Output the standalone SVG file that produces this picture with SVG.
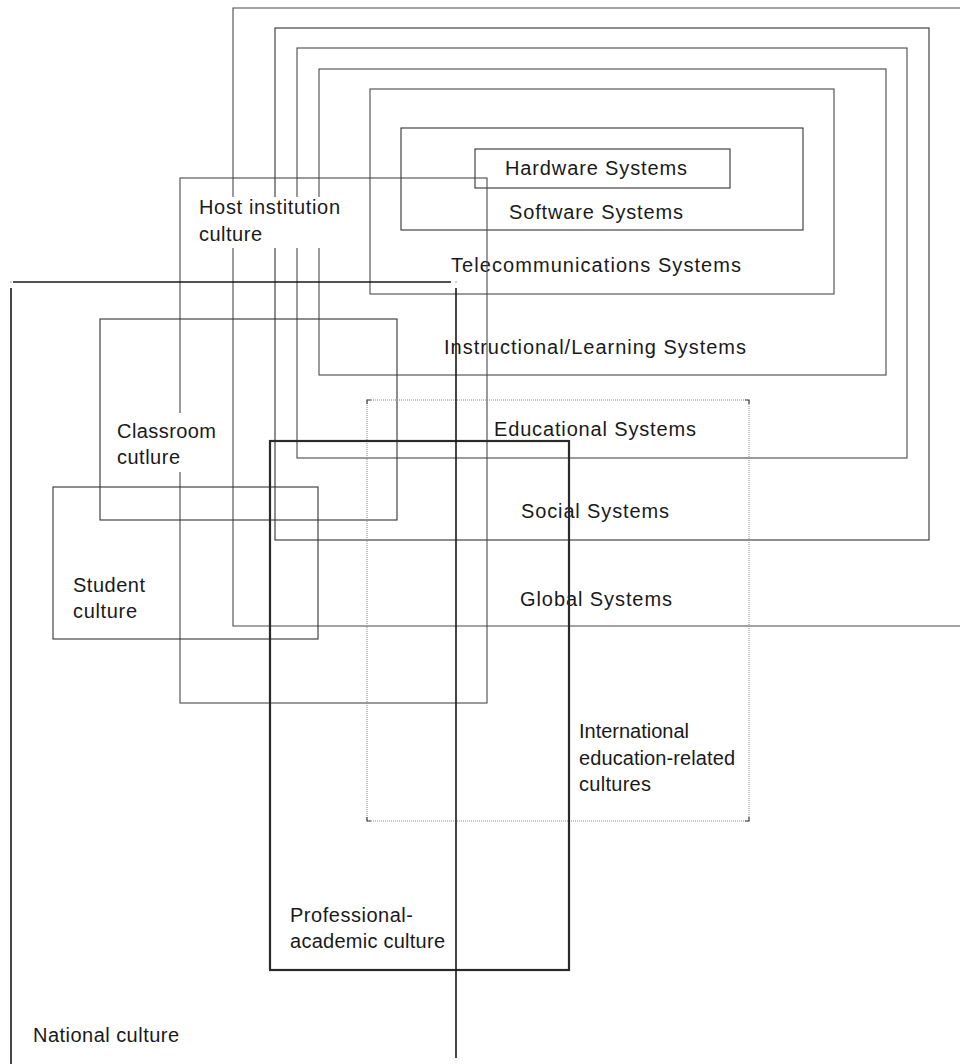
<svg xmlns="http://www.w3.org/2000/svg" width="960" height="1064" viewBox="0 0 960 1064">
<style>
.box{fill:none;stroke:#333;stroke-width:1.1}
.lt{fill:none;stroke:#4a4a4a;stroke-width:1.1}
.thick{fill:none;stroke:#2a2a2a;stroke-width:2.2}
.nat{fill:none;stroke:#1a1a1a;stroke-width:1.6}
.dot{fill:none;stroke:#8a8a8a;stroke-width:1;stroke-dasharray:1 1}
.tick{fill:none;stroke:#444;stroke-width:1.2}
.mask{fill:#fff;stroke:none}
text{font-family:"Liberation Sans",Arial,sans-serif;font-size:20px;fill:#1a1a1a}
</style>
<rect width="960" height="1064" fill="#fff"/>
<g id="global-systems">
<path class="lt" d="M960,8 H233 V626 H960"/>
<text x="520" y="606" textLength="152" lengthAdjust="spacing">Global Systems</text>
</g>
<g id="social-systems">
<rect class="box" x="275" y="28" width="654" height="512"/>
<text x="521" y="518" textLength="148" lengthAdjust="spacing">Social Systems</text>
</g>
<g id="educational-systems">
<rect class="lt" x="297" y="48" width="610" height="410"/>
<text x="494" y="436" textLength="202" lengthAdjust="spacing">Educational Systems</text>
</g>
<g id="instructional-systems">
<rect class="lt" x="319" y="69" width="567" height="306"/>
<text x="444" y="354" textLength="302" lengthAdjust="spacing">Instructional/Learning Systems</text>
</g>
<g id="telecommunications-systems">
<rect class="lt" x="370" y="89" width="464" height="205"/>
<text x="451" y="272" textLength="290" lengthAdjust="spacing">Telecommunications Systems</text>
</g>
<g id="software-systems">
<rect class="box" x="401" y="128" width="402" height="102"/>
<text x="509" y="219" textLength="174" lengthAdjust="spacing">Software Systems</text>
</g>
<g id="hardware-systems">
<rect class="box" x="475" y="149" width="255" height="39"/>
<text x="505" y="175" textLength="182" lengthAdjust="spacing">Hardware Systems</text>
</g>
<g id="host-institution-culture">
<rect class="lt" x="180" y="178" width="307" height="525"/>
<rect class="mask" x="190" y="197" width="155" height="51"/>
<text x="199" y="214" textLength="141" lengthAdjust="spacing">Host institution</text>
<text x="199" y="241" textLength="63" lengthAdjust="spacing">culture</text>
</g>
<g id="classroom-culture">
<rect class="box" x="100" y="319" width="297" height="201"/>
<rect class="mask" x="110" y="413" width="112" height="59"/>
<text x="117" y="438" textLength="99" lengthAdjust="spacing">Classroom</text>
<text x="117" y="464" textLength="63" lengthAdjust="spacing">cutlure</text>
</g>
<g id="student-culture">
<rect class="box" x="53" y="487" width="265" height="152"/>
<text x="73" y="592" textLength="72" lengthAdjust="spacing">Student</text>
<text x="73" y="618" textLength="64" lengthAdjust="spacing">culture</text>
</g>
<g id="international-cultures">
<rect class="dot" x="367" y="400" width="382" height="421"/>
<path class="tick" d="M367,404 V400 H371 M745,400 H749 V404 M749,817 V821 H745 M371,821 H367 V817"/>
<text x="579" y="738" textLength="110" lengthAdjust="spacing">International</text>
<text x="579" y="765" textLength="156" lengthAdjust="spacing">education-related</text>
<text x="579" y="791" textLength="72" lengthAdjust="spacing">cultures</text>
</g>
<g id="professional-academic-culture">
<rect class="thick" x="270" y="441" width="299" height="529"/>
<text x="290" y="922" textLength="123" lengthAdjust="spacing">Professional-</text>
<text x="290" y="948" textLength="155" lengthAdjust="spacing">academic culture</text>
</g>
<g id="national-culture">
<path class="nat" d="M13,282 H451 M11,288 V1064 M456,288 V1058"/>
<circle cx="11" cy="282" r="0.8" fill="#999"/>
<circle cx="456" cy="282" r="0.8" fill="#999"/>
<text x="33" y="1042" textLength="146" lengthAdjust="spacing">National culture</text>
</g>
</svg>
